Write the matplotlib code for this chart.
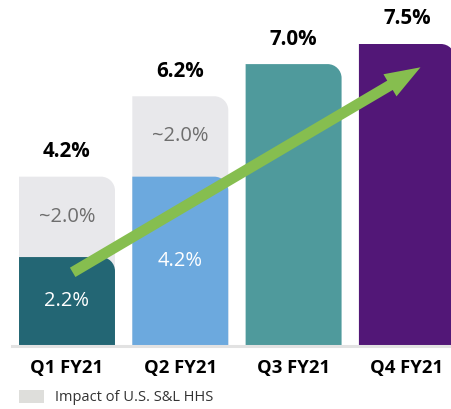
import matplotlib
matplotlib.use("Agg")
import matplotlib.pyplot as plt
from matplotlib.path import Path
from matplotlib.patches import PathPatch, FancyArrowPatch, Patch, ArrowStyle
from matplotlib.transforms import IdentityTransform

plt.rcParams['font.family'] = ['Open Sans', 'DejaVu Sans']

# ---- data ----
categories = ["Q1 FY21", "Q2 FY21", "Q3 FY21", "Q4 FY21"]
base_values = [2.2, 4.2, 7.0, 7.5]
hhs_impact = [2.0, 2.0, 0.0, 0.0]
total_labels = ["4.2%", "6.2%", "7.0%", "7.5%"]
base_labels = ["2.2%", "4.2%", "", ""]
hhs_labels = ["~2.0%", "~2.0%", "", ""]
legend_label = "Impact of U.S. S&L HHS"
arrow_start = (0.05, 1.82)
arrow_end = (3.12, 6.92)

# ---- style ----
bar_colors = ["#236674", "#6CA9DE", "#4F9A9C", "#521777"]
hhs_color = "#E8E8EB"
legend_color = "#DEDEDB"
arrow_color = "#86BE4F"
bar_width = 0.847
radius_px = 14

W, H, DPI = 452, 409, 100
fig = plt.figure(figsize=(W / DPI, H / DPI), dpi=DPI)
ax = fig.add_axes([0, 0, 1, 1])
px_x = 113.3
px_y = 40.2
x0_px, base_px = 67, 345.5
ax.set_xlim(-x0_px / px_x, (W - x0_px) / px_x)
ax.set_ylim((base_px - H) / px_y, base_px / px_y)
ax.set_autoscale_on(False)
ax.axis("off")


def rounded_bar(x, bottom, height, color, zorder):
    t = ax.transData
    (l, b) = t.transform((x - bar_width / 2, bottom))
    (r, tp) = t.transform((x + bar_width / 2, bottom + height))
    rr = min(radius_px, (tp - b), (r - l))
    k = 0.5523 * rr
    verts = [(l, b), (l, tp), (r - rr, tp),
             (r - rr + k, tp), (r, tp - rr + k), (r, tp - rr),
             (r, b), (l, b)]
    codes = [Path.MOVETO, Path.LINETO, Path.LINETO,
             Path.CURVE4, Path.CURVE4, Path.CURVE4,
             Path.LINETO, Path.CLOSEPOLY]
    p = PathPatch(Path(verts, codes), facecolor=color, edgecolor="none",
                  transform=IdentityTransform(), zorder=zorder)
    ax.add_artist(p)


for i, cat in enumerate(categories):
    total = base_values[i] + hhs_impact[i]
    if hhs_impact[i] > 0:
        rounded_bar(i, 0, total, hhs_color, 1)
        ax.text(i, base_values[i] + hhs_impact[i] / 2, hhs_labels[i],
                ha="center", va="center", fontsize=14.5, color="#6E6E6E", zorder=5)
    rounded_bar(i, 0, base_values[i], bar_colors[i], 2)
    if base_labels[i]:
        ax.text(i, base_values[i] / 2, base_labels[i], ha="center", va="center",
                fontsize=14.5, color="white", zorder=5)
    ax.annotate(total_labels[i], (i, total), xytext=(0, 25 * 0.72),
                textcoords="offset points", ha="center", va="center",
                fontsize=14.8, fontweight="bold", color="black", zorder=5)
    ax.annotate(cat, (i, 0), xytext=(0, -22 * 0.72), textcoords="offset points",
                ha="center", va="center", fontsize=13.3, fontweight="bold",
                color="black")

# baseline
ax.axhline(0, xmin=12 / W, xmax=1, color="#E2E2E2", lw=2.2, zorder=3)

# arrow
style = ArrowStyle("simple", head_length=25.5, head_width=18.5, tail_width=7.8)
arr = FancyArrowPatch(arrow_start, arrow_end, arrowstyle=style, mutation_scale=1,
                      color=arrow_color, shrinkA=0, shrinkB=0, zorder=6,
                      linewidth=0)
ax.add_patch(arr)

# legend
handle = Patch(facecolor=legend_color, edgecolor="none")
leg = fig.legend([handle], [legend_label], loc="center left",
                 bbox_to_anchor=(19 / W, 1 - 397.5 / H), frameon=False,
                 fontsize=10.5, handlelength=1.7, handleheight=1.0,
                 handletextpad=0.78, borderpad=0, borderaxespad=0)
for t in leg.get_texts():
    t.set_color("#333333")

fig.savefig("out.png", dpi=DPI)
